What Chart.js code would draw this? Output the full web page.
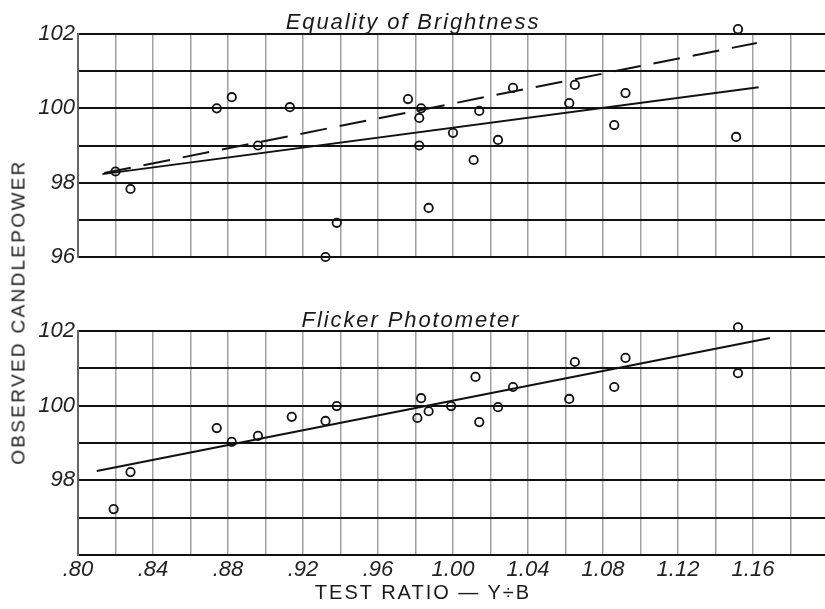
<!DOCTYPE html>
<html>
<head>
<meta charset="utf-8">
<script src="https://cdn.jsdelivr.net/npm/chart.js@4.4.0/dist/chart.umd.min.js"></script>
<style>
  html, body { margin: 0; padding: 0; background: #ffffff; }
  #wrap { position: relative; width: 825px; height: 609px; overflow: hidden; background: #ffffff; }
  canvas { position: absolute; left: 0; top: 0; }
  .txt { position: absolute; color: #1a1a1a; white-space: nowrap; font-family: "Liberation Sans", Arial, sans-serif; line-height: 1; }
  .ptitle { font-style: italic; font-size: 22px; letter-spacing: 1.9px; transform: translateX(-50%); }
  .ytitle { font-size: 19px; letter-spacing: 2.3px; transform: translate(-50%, -50%) rotate(-90deg); }
  .xtitle { font-size: 20px; letter-spacing: 2px; transform: translate(-50%, -50%); }
</style>
</head>
<body>
<div id="wrap">
  <canvas id="top" width="834" height="609"></canvas>
  <canvas id="bot" width="834" height="609"></canvas>
  <div class="txt ptitle" style="left:413px; top:11px;">Equality of Brightness</div>
  <div class="txt ptitle" style="left:411px; top:309px;">Flicker Photometer</div>
  <div class="txt ytitle" style="left:18px; top:312px;">OBSERVED CANDLEPOWER</div>
  <div class="txt xtitle" style="left:423px; top:592px;">TEST RATIO — Y÷B</div>
</div>
<script>
// ---- Data ----
// Equality of Brightness (top panel) observations
const eqX = [0.820, 0.828, 0.874, 0.882, 0.896, 0.913, 0.932, 0.938, 0.976, 0.983, 0.982, 0.982, 0.987, 1.000, 1.014, 1.011, 1.024, 1.032, 1.062, 1.065, 1.086, 1.092, 1.152, 1.151];
const eqY = [98.30, 97.83, 100.00, 100.30, 99.00, 100.03, 96.00, 96.92, 100.25, 100.00, 99.74, 99.00, 97.32, 99.34, 99.93, 98.61, 99.15, 100.55, 100.14, 100.63, 99.55, 100.41, 102.13, 99.23];
// Equality of Brightness fitted lines
const eqSolidX = [0.813, 1.163];
const eqSolidY = [98.23, 100.57];
const eqDashX = [0.814, 1.162];
const eqDashY = [98.26, 101.76];

// Flicker Photometer (bottom panel) observations
const flX = [0.819, 0.828, 0.874, 0.882, 0.896, 0.914, 0.932, 0.938, 0.983, 0.987, 0.981, 0.999, 1.012, 1.014, 1.024, 1.032, 1.062, 1.065, 1.086, 1.092, 1.152, 1.152];
const flY = [97.23, 98.22, 99.40, 99.03, 99.19, 99.70, 99.59, 99.99, 100.20, 99.85, 99.67, 99.99, 100.77, 99.56, 99.96, 100.50, 100.18, 101.17, 100.50, 101.28, 102.10, 100.87];
// Flicker Photometer fitted line
const flLineX = [0.810, 1.169];
const flLineY = [98.25, 101.81];

// Axis ranges / tick labels
const xMin = 0.80, xMax = 1.20, xStep = 0.02;
const xTickLabels = [".80", ".84", ".88", ".92", ".96", "1.00", "1.04", "1.08", "1.12", "1.16"];
const xTickValues = [0.80, 0.84, 0.88, 0.92, 0.96, 1.00, 1.04, 1.08, 1.12, 1.16];
const yMin = 96, yMax = 102;
const topYLabels = [96, 98, 100, 102];
const botYLabels = [98, 100, 102];

function pts(xs, ys) { return xs.map((x, i) => ({ x: x, y: ys[i] })); }

const tickFont = { family: "'Liberation Sans', Arial, sans-serif", size: 22, style: 'italic' };

function isOnStep(v) {
  const k = (v - xMin) / xStep;
  return Math.abs(k - Math.round(k)) < 1e-6;
}

function makeChart(id, scatter, lines, yLabels, showX, padTop, padBottom) {
  const datasets = [{
    type: 'scatter',
    data: scatter,
    pointStyle: 'circle',
    pointRadius: 4.2,
    pointBorderWidth: 1.8,
    pointBorderColor: '#111',
    pointBackgroundColor: 'rgba(0,0,0,0)',
    clip: false
  }];
  lines.forEach(l => datasets.push({
    type: 'line',
    data: l.data,
    borderColor: '#111',
    borderWidth: 2,
    borderDash: l.dash || [],
    pointRadius: 0,
    fill: false,
    clip: false
  }));
  return new Chart(document.getElementById(id), {
    data: { datasets },
    options: {
      responsive: false,
      animation: false,
      events: [],
      layout: { padding: { top: padTop, bottom: padBottom, left: 0, right: 0 } },
      plugins: { legend: { display: false }, tooltip: { enabled: false }, title: { display: false } },
      scales: {
        x: {
          type: 'linear', min: xMin, max: xMax,
          afterFit: s => { s.height = showX ? 54 : 0; },
          ticks: {
            display: showX, stepSize: xStep, autoSkip: false, maxRotation: 0, padding: 2,
            color: '#222', font: tickFont,
            callback: v => {
              const i = xTickValues.findIndex(t => Math.abs(t - v) < 1e-6);
              return i >= 0 ? xTickLabels[i] : '';
            }
          },
          grid: {
            drawTicks: false,
            color: c => (c.tick && isOnStep(c.tick.value)) ? '#a0a0a0' : 'rgba(0,0,0,0)',
            lineWidth: 1.5
          },
          border: { display: false }
        },
        y: {
          type: 'linear', min: yMin, max: yMax,
          afterFit: s => { s.width = 78; },
          ticks: {
            stepSize: 1, padding: 3, color: '#222', font: tickFont,
            callback: v => yLabels.includes(v) ? String(v) : ''
          },
          grid: { drawTicks: false, color: '#111', lineWidth: 2 },
          border: { display: true, color: '#666', width: 2 }
        }
      }
    }
  });
}

makeChart('top', pts(eqX, eqY), [
  { data: pts(eqSolidX, eqSolidY) },
  { data: pts(eqDashX, eqDashY), dash: [27, 13] }
], topYLabels, false, 34, 352);

makeChart('bot', pts(flX, flY), [
  { data: pts(flLineX, flLineY) }
], botYLabels, true, 331, 0);
</script>
</body>
</html>
